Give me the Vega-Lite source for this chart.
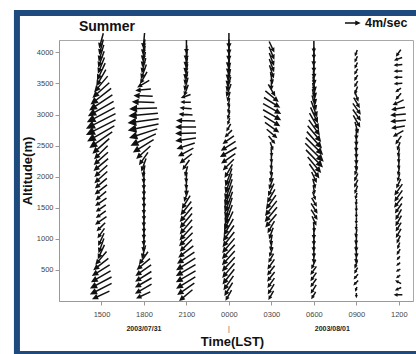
{
"$schema":"https://vega.github.io/schema/vega-lite/v6.json",
"width":354,"height":261,"autosize":"none",
"padding":{"left":59,"top":40,"right":3,"bottom":53},
"background":"white",
"config":{"font":"Liberation Sans","view":{"stroke":"#a8a8a8","strokeWidth":1},"axis":{"labelOverlap":false,"labelFlush":false}},
"resolve":{"axis":{"x":"independent","y":"independent"}},
"layer":[
{"data":{"values":[
{"t":3,"h":4200,"s":4,"d":195},{"t":3,"h":4100,"s":4,"d":195},{"t":3,"h":4000,"s":4.5,"d":197},{"t":3,"h":3900,"s":4.5,"d":200},{"t":3,"h":3800,"s":4.5,"d":202},{"t":3,"h":3700,"s":5,"d":205},{"t":3,"h":3600,"s":5,"d":210},{"t":3,"h":3500,"s":5.5,"d":220},{"t":3,"h":3400,"s":6,"d":228},{"t":3,"h":3300,"s":7,"d":232},{"t":3,"h":3200,"s":7.5,"d":236},{"t":3,"h":3100,"s":8,"d":240},{"t":3,"h":3000,"s":8.5,"d":242},{"t":3,"h":2900,"s":9,"d":243},{"t":3,"h":2800,"s":9,"d":243},{"t":3,"h":2700,"s":8.5,"d":240},{"t":3,"h":2600,"s":7.5,"d":235},{"t":3,"h":2500,"s":6,"d":228},{"t":3,"h":2400,"s":5,"d":225},{"t":3,"h":2300,"s":5,"d":228},{"t":3,"h":2200,"s":5,"d":230},{"t":3,"h":2100,"s":4.5,"d":228},{"t":3,"h":2000,"s":4.5,"d":228},{"t":3,"h":1900,"s":4,"d":230},{"t":3,"h":1800,"s":4,"d":232},{"t":3,"h":1700,"s":3.5,"d":230},{"t":3,"h":1600,"s":3.5,"d":235},{"t":3,"h":1500,"s":3,"d":235},{"t":3,"h":1400,"s":3,"d":235},{"t":3,"h":1300,"s":3.5,"d":235},{"t":3,"h":1200,"s":3,"d":225},{"t":3,"h":1100,"s":3,"d":215},{"t":3,"h":1000,"s":3.5,"d":205},{"t":3,"h":900,"s":4,"d":200},{"t":3,"h":800,"s":4,"d":205},{"t":3,"h":700,"s":4.5,"d":220},{"t":3,"h":600,"s":5,"d":232},{"t":3,"h":500,"s":5.5,"d":238},{"t":3,"h":400,"s":6,"d":240},{"t":3,"h":300,"s":6.5,"d":242},{"t":3,"h":200,"s":6.5,"d":243},{"t":3,"h":100,"s":5,"d":245},
{"t":6,"h":4200,"s":4,"d":185},{"t":6,"h":4100,"s":4,"d":188},{"t":6,"h":4000,"s":4,"d":190},{"t":6,"h":3900,"s":4,"d":192},{"t":6,"h":3800,"s":4,"d":195},{"t":6,"h":3700,"s":4,"d":200},{"t":6,"h":3600,"s":3.5,"d":210},{"t":6,"h":3500,"s":3.5,"d":240},{"t":6,"h":3400,"s":4,"d":265},{"t":6,"h":3300,"s":5,"d":272},{"t":6,"h":3200,"s":6,"d":272},{"t":6,"h":3100,"s":7.5,"d":268},{"t":6,"h":3000,"s":8,"d":265},{"t":6,"h":2900,"s":8.5,"d":262},{"t":6,"h":2800,"s":8.5,"d":258},{"t":6,"h":2700,"s":8,"d":252},{"t":6,"h":2600,"s":7.5,"d":245},{"t":6,"h":2500,"s":6.5,"d":238},{"t":6,"h":2400,"s":5,"d":228},{"t":6,"h":2300,"s":4,"d":215},{"t":6,"h":2200,"s":3.5,"d":200},{"t":6,"h":2100,"s":3,"d":190},{"t":6,"h":2000,"s":3,"d":185},{"t":6,"h":1900,"s":3,"d":182},{"t":6,"h":1800,"s":3,"d":180},{"t":6,"h":1700,"s":3,"d":183},{"t":6,"h":1600,"s":3,"d":180},{"t":6,"h":1500,"s":3,"d":182},{"t":6,"h":1400,"s":3,"d":180},{"t":6,"h":1300,"s":3,"d":183},{"t":6,"h":1200,"s":3,"d":180},{"t":6,"h":1100,"s":3,"d":182},{"t":6,"h":1000,"s":3,"d":185},{"t":6,"h":900,"s":3,"d":188},{"t":6,"h":800,"s":3.5,"d":195},{"t":6,"h":700,"s":4,"d":215},{"t":6,"h":600,"s":4.5,"d":230},{"t":6,"h":500,"s":5,"d":235},{"t":6,"h":400,"s":5,"d":238},{"t":6,"h":300,"s":5,"d":240},{"t":6,"h":200,"s":5,"d":240},{"t":6,"h":100,"s":4,"d":245},
{"t":9,"h":4100,"s":3.5,"d":180},{"t":9,"h":4000,"s":4,"d":183},{"t":9,"h":3900,"s":4,"d":186},{"t":9,"h":3800,"s":4,"d":188},{"t":9,"h":3700,"s":4,"d":190},{"t":9,"h":3600,"s":3.5,"d":192},{"t":9,"h":3500,"s":3.5,"d":195},{"t":9,"h":3400,"s":3,"d":200},{"t":9,"h":3300,"s":2.5,"d":250},{"t":9,"h":3200,"s":2.5,"d":272},{"t":9,"h":3100,"s":3,"d":275},{"t":9,"h":3000,"s":3.5,"d":275},{"t":9,"h":2900,"s":5,"d":272},{"t":9,"h":2800,"s":5.5,"d":270},{"t":9,"h":2700,"s":5.5,"d":268},{"t":9,"h":2600,"s":5.5,"d":262},{"t":9,"h":2500,"s":5,"d":252},{"t":9,"h":2400,"s":4.5,"d":242},{"t":9,"h":2300,"s":4,"d":232},{"t":9,"h":2200,"s":3,"d":215},{"t":9,"h":2100,"s":2.5,"d":195},{"t":9,"h":2000,"s":2.5,"d":185},{"t":9,"h":1900,"s":2.5,"d":185},{"t":9,"h":1800,"s":2.5,"d":188},{"t":9,"h":1700,"s":3,"d":200},{"t":9,"h":1600,"s":4,"d":212},{"t":9,"h":1500,"s":4.5,"d":218},{"t":9,"h":1400,"s":5,"d":220},{"t":9,"h":1300,"s":5,"d":220},{"t":9,"h":1200,"s":5,"d":220},{"t":9,"h":1100,"s":5,"d":222},{"t":9,"h":1000,"s":5,"d":225},{"t":9,"h":900,"s":4.5,"d":225},{"t":9,"h":800,"s":5,"d":232},{"t":9,"h":700,"s":5.5,"d":236},{"t":9,"h":600,"s":6,"d":238},{"t":9,"h":500,"s":6,"d":240},{"t":9,"h":400,"s":6,"d":240},{"t":9,"h":300,"s":6,"d":238},{"t":9,"h":200,"s":5.5,"d":235},{"t":9,"h":100,"s":4.5,"d":230},
{"t":12,"h":4200,"s":4,"d":180},{"t":12,"h":4100,"s":4,"d":180},{"t":12,"h":4000,"s":4,"d":182},{"t":12,"h":3900,"s":4.5,"d":185},{"t":12,"h":3800,"s":4.5,"d":185},{"t":12,"h":3700,"s":4.5,"d":188},{"t":12,"h":3600,"s":4.5,"d":190},{"t":12,"h":3500,"s":4,"d":195},{"t":12,"h":3400,"s":3.5,"d":200},{"t":12,"h":3300,"s":2.5,"d":195},{"t":12,"h":3200,"s":2,"d":190},{"t":12,"h":3100,"s":2,"d":190},{"t":12,"h":3000,"s":2,"d":195},{"t":12,"h":2900,"s":1.5,"d":200},{"t":12,"h":2800,"s":2,"d":210},{"t":12,"h":2700,"s":2.5,"d":225},{"t":12,"h":2600,"s":3.5,"d":235},{"t":12,"h":2500,"s":4.5,"d":238},{"t":12,"h":2400,"s":5,"d":240},{"t":12,"h":2300,"s":4.5,"d":235},{"t":12,"h":2200,"s":4,"d":225},{"t":12,"h":2100,"s":4,"d":210},{"t":12,"h":2000,"s":5,"d":200},{"t":12,"h":1900,"s":5.5,"d":198},{"t":12,"h":1800,"s":6,"d":198},{"t":12,"h":1700,"s":6,"d":200},{"t":12,"h":1600,"s":6,"d":200},{"t":12,"h":1500,"s":6,"d":198},{"t":12,"h":1400,"s":5.5,"d":200},{"t":12,"h":1300,"s":5.5,"d":205},{"t":12,"h":1200,"s":5,"d":210},{"t":12,"h":1100,"s":5,"d":215},{"t":12,"h":1000,"s":5,"d":218},{"t":12,"h":900,"s":5,"d":220},{"t":12,"h":800,"s":5,"d":222},{"t":12,"h":700,"s":5,"d":222},{"t":12,"h":600,"s":5,"d":222},{"t":12,"h":500,"s":5,"d":220},{"t":12,"h":400,"s":5,"d":218},{"t":12,"h":300,"s":4.5,"d":215},{"t":12,"h":200,"s":4,"d":212},{"t":12,"h":100,"s":3,"d":210},
{"t":15,"h":4100,"s":3,"d":155},{"t":15,"h":4000,"s":3.5,"d":158},{"t":15,"h":3900,"s":3.5,"d":160},{"t":15,"h":3800,"s":3.5,"d":160},{"t":15,"h":3700,"s":3.5,"d":162},{"t":15,"h":3600,"s":3,"d":170},{"t":15,"h":3500,"s":3,"d":180},{"t":15,"h":3400,"s":3.5,"d":150},{"t":15,"h":3300,"s":4.5,"d":130},{"t":15,"h":3200,"s":5,"d":122},{"t":15,"h":3100,"s":5.5,"d":120},{"t":15,"h":3000,"s":5.5,"d":120},{"t":15,"h":2900,"s":5,"d":122},{"t":15,"h":2800,"s":4.5,"d":125},{"t":15,"h":2700,"s":3.5,"d":130},{"t":15,"h":2600,"s":2.5,"d":140},{"t":15,"h":2500,"s":2,"d":160},{"t":15,"h":2400,"s":2,"d":175},{"t":15,"h":2300,"s":2,"d":180},{"t":15,"h":2200,"s":2,"d":185},{"t":15,"h":2100,"s":2,"d":190},{"t":15,"h":2000,"s":2.5,"d":195},{"t":15,"h":1900,"s":3,"d":200},{"t":15,"h":1800,"s":3.5,"d":205},{"t":15,"h":1700,"s":4,"d":210},{"t":15,"h":1600,"s":4.5,"d":215},{"t":15,"h":1500,"s":5,"d":218},{"t":15,"h":1400,"s":5,"d":220},{"t":15,"h":1300,"s":4.5,"d":220},{"t":15,"h":1200,"s":3.5,"d":210},{"t":15,"h":1100,"s":3,"d":200},{"t":15,"h":1000,"s":2.5,"d":190},{"t":15,"h":900,"s":2.5,"d":190},{"t":15,"h":800,"s":2.5,"d":200},{"t":15,"h":700,"s":2.5,"d":210},{"t":15,"h":600,"s":3,"d":215},{"t":15,"h":500,"s":3,"d":218},{"t":15,"h":400,"s":3,"d":218},{"t":15,"h":300,"s":3,"d":215},{"t":15,"h":200,"s":3,"d":212},{"t":15,"h":100,"s":2.5,"d":210},
{"t":18,"h":4100,"s":3,"d":180},{"t":18,"h":4000,"s":3,"d":180},{"t":18,"h":3900,"s":3.5,"d":182},{"t":18,"h":3800,"s":3.5,"d":180},{"t":18,"h":3700,"s":3.5,"d":178},{"t":18,"h":3600,"s":3.5,"d":175},{"t":18,"h":3500,"s":4,"d":172},{"t":18,"h":3400,"s":4,"d":170},{"t":18,"h":3300,"s":4,"d":168},{"t":18,"h":3200,"s":4,"d":165},{"t":18,"h":3100,"s":4.5,"d":160},{"t":18,"h":3000,"s":4.5,"d":155},{"t":18,"h":2900,"s":5,"d":150},{"t":18,"h":2800,"s":5,"d":145},{"t":18,"h":2700,"s":5.5,"d":140},{"t":18,"h":2600,"s":6,"d":138},{"t":18,"h":2500,"s":6.5,"d":135},{"t":18,"h":2400,"s":7,"d":135},{"t":18,"h":2300,"s":6.5,"d":136},{"t":18,"h":2200,"s":5.5,"d":140},{"t":18,"h":2100,"s":4.5,"d":145},{"t":18,"h":2000,"s":3,"d":155},{"t":18,"h":1900,"s":2.5,"d":165},{"t":18,"h":1800,"s":2,"d":170},{"t":18,"h":1700,"s":2,"d":160},{"t":18,"h":1600,"s":2.5,"d":150},{"t":18,"h":1500,"s":3,"d":148},{"t":18,"h":1400,"s":3,"d":148},{"t":18,"h":1300,"s":2.5,"d":155},{"t":18,"h":1200,"s":2.5,"d":175},{"t":18,"h":1100,"s":3,"d":180},{"t":18,"h":1000,"s":3,"d":180},{"t":18,"h":900,"s":3,"d":182},{"t":18,"h":800,"s":3,"d":180},{"t":18,"h":700,"s":2.5,"d":185},{"t":18,"h":600,"s":2.5,"d":205},{"t":18,"h":500,"s":2.5,"d":215},{"t":18,"h":400,"s":2.5,"d":215},{"t":18,"h":300,"s":2.5,"d":215},{"t":18,"h":200,"s":2.5,"d":212},{"t":18,"h":100,"s":2,"d":210},
{"t":21,"h":4000,"s":1.5,"d":200},{"t":21,"h":3900,"s":1.5,"d":205},{"t":21,"h":3800,"s":1.5,"d":205},{"t":21,"h":3700,"s":1.5,"d":210},{"t":21,"h":3600,"s":1.5,"d":210},{"t":21,"h":3500,"s":1.5,"d":210},{"t":21,"h":3400,"s":2,"d":200},{"t":21,"h":3300,"s":2.5,"d":160},{"t":21,"h":3200,"s":3,"d":150},{"t":21,"h":3100,"s":3.5,"d":145},{"t":21,"h":3000,"s":3.5,"d":145},{"t":21,"h":2900,"s":3.5,"d":150},{"t":21,"h":2800,"s":3,"d":165},{"t":21,"h":2700,"s":3,"d":180},{"t":21,"h":2600,"s":3,"d":180},{"t":21,"h":2500,"s":3,"d":182},{"t":21,"h":2400,"s":3,"d":180},{"t":21,"h":2300,"s":3,"d":180},{"t":21,"h":2200,"s":2.5,"d":185},{"t":21,"h":2100,"s":2,"d":200},{"t":21,"h":2000,"s":2,"d":205},{"t":21,"h":1900,"s":2,"d":205},{"t":21,"h":1800,"s":2,"d":200},{"t":21,"h":1700,"s":1.5,"d":195},{"t":21,"h":1600,"s":1.5,"d":185},{"t":21,"h":1500,"s":1.5,"d":182},{"t":21,"h":1400,"s":1.5,"d":180},{"t":21,"h":1300,"s":1.5,"d":182},{"t":21,"h":1200,"s":1.5,"d":185},{"t":21,"h":1100,"s":2,"d":190},{"t":21,"h":1000,"s":2.5,"d":185},{"t":21,"h":900,"s":3,"d":182},{"t":21,"h":800,"s":3,"d":180},{"t":21,"h":700,"s":2.5,"d":185},{"t":21,"h":600,"s":2,"d":200},{"t":21,"h":500,"s":1.5,"d":210},{"t":21,"h":400,"s":1.5,"d":220},{"t":21,"h":300,"s":1.5,"d":225},{"t":21,"h":200,"s":1,"d":200},{"t":21,"h":100,"s":1,"d":180},
{"t":24,"h":4000,"s":2,"d":215},{"t":24,"h":3900,"s":2,"d":250},{"t":24,"h":3800,"s":2,"d":265},{"t":24,"h":3700,"s":2,"d":268},{"t":24,"h":3600,"s":2,"d":270},{"t":24,"h":3500,"s":2,"d":265},{"t":24,"h":3400,"s":1.5,"d":235},{"t":24,"h":3300,"s":2,"d":220},{"t":24,"h":3200,"s":3,"d":245},{"t":24,"h":3100,"s":3.5,"d":260},{"t":24,"h":3000,"s":4,"d":265},{"t":24,"h":2900,"s":4,"d":265},{"t":24,"h":2800,"s":3.5,"d":260},{"t":24,"h":2700,"s":3,"d":240},{"t":24,"h":2600,"s":2.5,"d":215},{"t":24,"h":2500,"s":2,"d":200},{"t":24,"h":2400,"s":2,"d":190},{"t":24,"h":2300,"s":2,"d":185},{"t":24,"h":2200,"s":2,"d":185},{"t":24,"h":2100,"s":2,"d":190},{"t":24,"h":2000,"s":2,"d":195},{"t":24,"h":1900,"s":2.5,"d":205},{"t":24,"h":1800,"s":3.5,"d":215},{"t":24,"h":1700,"s":3.5,"d":215},{"t":24,"h":1600,"s":3.5,"d":218},{"t":24,"h":1500,"s":3,"d":215},{"t":24,"h":1400,"s":3,"d":210},{"t":24,"h":1300,"s":3,"d":210},{"t":24,"h":1200,"s":2.5,"d":212},{"t":24,"h":1100,"s":2.5,"d":210},{"t":24,"h":1000,"s":2,"d":205},{"t":24,"h":900,"s":1.5,"d":200},{"t":24,"h":800,"s":1.5,"d":210},{"t":24,"h":700,"s":1,"d":220},{"t":24,"h":600,"s":1,"d":230},{"t":24,"h":500,"s":1,"d":240},{"t":24,"h":400,"s":1,"d":235},{"t":24,"h":300,"s":1.5,"d":300},{"t":24,"h":200,"s":1.5,"d":245},{"t":24,"h":100,"s":2,"d":270}
]},
 "mark":{"type":"point","shape":"M0,1L0,-1M-0.2,-0.58L0,-1L0.2,-0.58Z","filled":true,"fill":"#111","stroke":"#111","strokeWidth":1.5,"opacity":1},
 "encoding":{
  "x":{"field":"t","type":"quantitative","scale":{"domain":[0,25],"nice":false},
   "axis":{"values":[3,6,9,12,15,18,21,24],"labelExpr":"['1500','1800','2100','0000','0300','0600','0900','1200'][round(datum.value/3)-1]","title":"Time(LST)","titleFontSize":13,"titleFontWeight":"bold","titleColor":"#111","titlePadding":18,"titleX":173,"labelFontSize":7.5,"labelColor":"#444","labelPadding":5,"tickSize":4,"tickColor":"#999","domainColor":"#999","grid":false,"labelFlush":false,"labelOverlap":false}},
  "y":{"field":"h","type":"quantitative","scale":{"domain":[0,4200],"nice":false},
   "axis":{"values":[500,1000,1500,2000,2500,3000,3500,4000],"format":"d","title":"Altitude(m)","titleFontSize":13,"titleFontWeight":"bold","titleColor":"#111","titlePadding":2,"labelFontSize":7.5,"labelColor":"#444","labelPadding":2,"tickSize":4,"tickColor":"#999","domainColor":"#999","grid":false,"labelOverlap":false,"labelFlush":false}},
  "size":{"field":"s","type":"quantitative","scale":{"type":"pow","exponent":2,"domain":[0,10],"range":[0,1225]},"legend":null},
  "angle":{"field":"d","type":"quantitative","scale":null}
 }},
{"data":{"values":[{}]},
 "mark":{"type":"rect","fill":"white","fillOpacity":0,"stroke":"#1f4a7e","strokeWidth":6},
 "encoding":{"x":{"datum":-2.97,"type":"quantitative","axis":null},"x2":{"datum":27},
 "y":{"datum":4635,"type":"quantitative","axis":null},"y2":{"datum":-853}}},
{"data":{"values":[{}]},
 "mark":{"type":"text","text":"Summer","align":"left","baseline":"middle","fontSize":14,"fontWeight":"bold","fill":"#111"},
 "encoding":{"x":{"datum":1.41,"type":"quantitative","axis":null},"y":{"datum":4409,"type":"quantitative","axis":null}}},
{"data":{"values":[{}]},
 "mark":{"type":"point","shape":"M0,1L0,-1M-0.2,-0.58L0,-1L0.2,-0.58Z","filled":true,"fill":"#111","stroke":"#111","strokeWidth":1.5,"opacity":1,"size":196,"angle":90},
 "encoding":{"x":{"datum":20.69,"type":"quantitative","axis":null},"y":{"datum":4474,"type":"quantitative","axis":null}}},
{"data":{"values":[{}]},
 "mark":{"type":"text","text":"4m/sec","align":"left","baseline":"middle","fontSize":12.5,"fontWeight":"bold","fill":"#111"},
 "encoding":{"x":{"datum":21.61,"type":"quantitative","axis":null},"y":{"datum":4474,"type":"quantitative","axis":null}}},
{"data":{"values":[{}]},
 "mark":{"type":"text","text":"2003/07/31","align":"center","baseline":"middle","fontSize":7,"fontWeight":"bold","fill":"#222"},
 "encoding":{"x":{"datum":6,"type":"quantitative","axis":null},"y":{"datum":-451,"type":"quantitative","axis":null}}},
{"data":{"values":[{}]},
 "mark":{"type":"text","text":"2003/08/01","align":"center","baseline":"middle","fontSize":7,"fontWeight":"bold","fill":"#222"},
 "encoding":{"x":{"datum":19.3,"type":"quantitative","axis":null},"y":{"datum":-451,"type":"quantitative","axis":null}}},
{"data":{"values":[{}]},
 "mark":{"type":"text","text":"|","align":"center","baseline":"middle","fontSize":7,"fill":"#555"},
 "encoding":{"x":{"datum":12,"type":"quantitative","axis":null},"y":{"datum":-451,"type":"quantitative","axis":null}}}
]
}
